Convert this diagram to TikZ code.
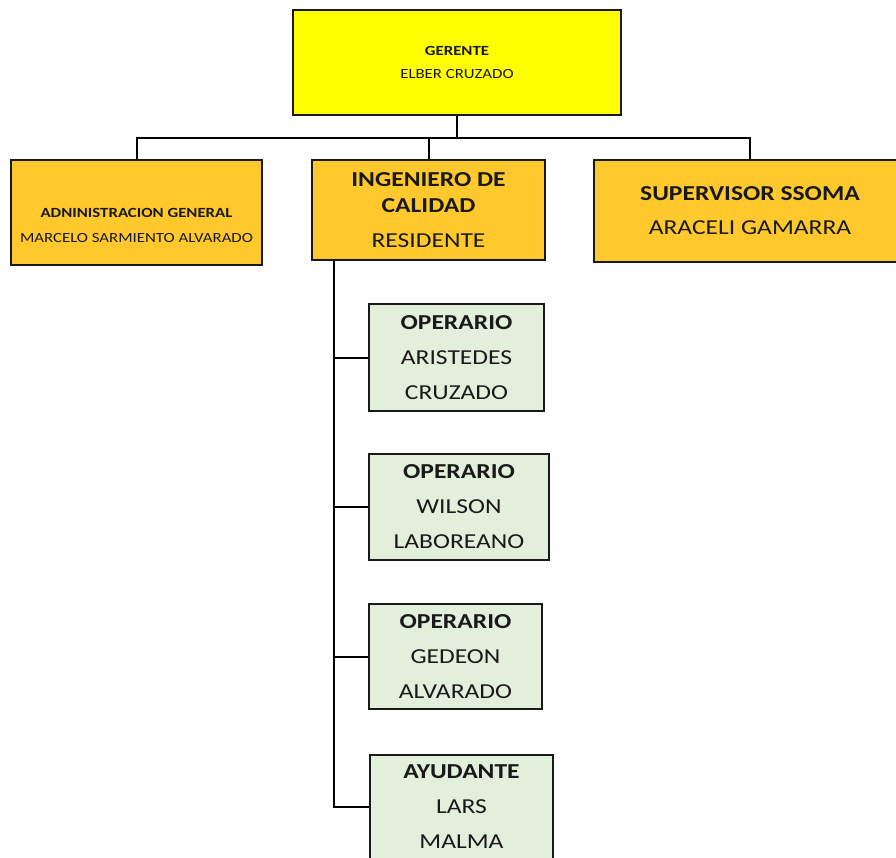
\documentclass[tikz,border=0pt]{standalone}
\usepackage{fontspec}
\setmainfont{Carlito}[FakeStretch=1.2]
\usetikzlibrary{positioning}
\definecolor{amarillo}{RGB}{255,255,0}
\definecolor{dorado}{RGB}{255,201,46}
\definecolor{verde}{RGB}{226,239,218}

\begin{document}
\begin{tikzpicture}[x=1pt, y=-1pt, line width=2pt,
	caja/.style={draw=black!90, rectangle, inner sep=0pt, align=center, text=black!90},
	jefe/.style={caja, fill=dorado},
	oper/.style={caja, fill=verde, minimum height=105, font=\fontsize{21.3}{35}\selectfont}]
	\useasboundingbox (0,0) rectangle (896,857);
	\clip (0,0) rectangle (896,857);

	% gerente
	\node[caja, fill=amarillo, minimum width=328, minimum height=105, font=\fontsize{14}{23}\selectfont] (ger) at (457,62.5) {\textbf{GERENTE}\\ELBER CRUZADO};

	% segundo nivel
	\node[jefe, minimum width=251, minimum height=105] (adm) at (136.5,212.5) {};
	\node[align=center, text=black!90, font=\fontsize{14}{25}\selectfont] (admtxt) at (136.5,225) {\textbf{ADNINISTRACION GENERAL}\\MARCELO SARMIENTO ALVARADO};
	\node[jefe, minimum width=233, minimum height=100, font=\fontsize{21.3}{26}\selectfont] (ing) at (428.5,210) {\textbf{INGENIERO DE}\\\textbf{CALIDAD}\\[9pt]RESIDENTE};
	\node[jefe, minimum width=312, minimum height=102, font=\fontsize{21.3}{34}\selectfont] (sup) at (750,211) {\textbf{SUPERVISOR SSOMA}\\ARACELI GAMARRA};

	% personal de obra
	\node[oper, minimum width=175, minimum height=107] (op1) at (456.5,357.5) {\textbf{OPERARIO}\\ARISTEDES\\CRUZADO};
	\node[oper, minimum width=180, minimum height=106] (op2) at (459,507) {\textbf{OPERARIO}\\WILSON\\LABOREANO};
	\node[oper, minimum width=173] (op3) at (455.5,656.5) {\textbf{OPERARIO}\\GEDEON\\ALVARADO};
	\node[oper, minimum width=183, minimum height=104] (op4) at (461.5,807) {\textbf{AYUDANTE}\\LARS\\MALMA};

	% conectores
	\draw (ger.south) -- ++(0,22) coordinate (bus);
	\draw (adm.north) |- (bus) -| (sup.north);
	\draw (ing.north) -- (ing.north |- bus);
	\coordinate (tronco) at ([xshift=23pt]ing.south west);
	\draw (tronco) |- (op4.west);
	\draw (op1.west) -- (op1.west -| tronco);
	\draw (op2.west) -- (op2.west -| tronco);
	\draw (op3.west) -- (op3.west -| tronco);
\end{tikzpicture}
\end{document}
